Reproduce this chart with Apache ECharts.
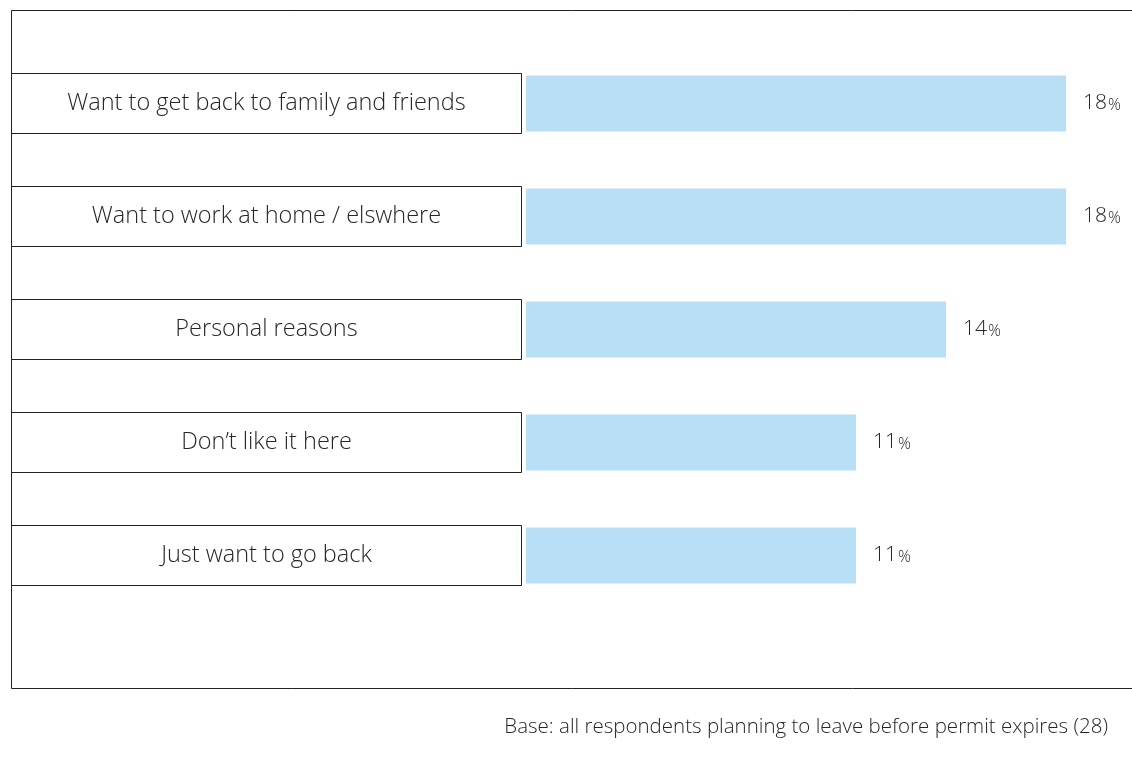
<!DOCTYPE html>
<html>
<head>
<meta charset="utf-8">
<script src="https://cdn.jsdelivr.net/npm/echarts@6/dist/echarts.min.js"></script>
<style>
  html, body { margin: 0; padding: 0; background: #fff; }
  #chart { width: 1132px; height: 782px; }
</style>
</head>
<body>
<div id="chart"></div>
<script>
// Reasons for leaving before the permit expires
const categories = [
  'Want to get back to family and friends',
  'Want to work at home / elswhere',
  'Personal reasons',
  'Don\u2019t like it here',
  'Just want to go back'
];
const shares = [18, 18, 14, 11, 11];
const footnote = 'Base: all respondents planning to leave before permit expires (28)';

const FONT = '"Open Sans", "Noto Sans", sans-serif';
const TEXT = '#262626';
const LINE = '#222222';

const chart = echarts.init(document.getElementById('chart'), null, { renderer: 'canvas' });

// one full-width box per category holds its caption
const boxFill = categories.map(() => 1);

chart.setOption({
  animation: false,
  backgroundColor: '#ffffff',
  grid: [
    { left: 11, width: 511, top: 47, height: 565 },
    { left: 526, width: 600, top: 47, height: 565 }
  ],
  xAxis: [
    { gridIndex: 0, type: 'value', min: 0, max: 1, show: false },
    { gridIndex: 1, type: 'value', min: 0, max: 20, show: false }
  ],
  yAxis: [
    { gridIndex: 0, type: 'category', data: categories, inverse: true, show: false },
    { gridIndex: 1, type: 'category', data: categories, inverse: true, show: false }
  ],
  series: [
    {
      type: 'bar',
      xAxisIndex: 0, yAxisIndex: 0,
      data: boxFill,
      barWidth: 61,
      silent: true,
      itemStyle: { color: '#ffffff', borderColor: LINE, borderWidth: 1 },
      label: {
        show: true,
        position: 'inside',
        formatter: p => p.name,
        color: TEXT,
        fontFamily: FONT,
        fontWeight: 300,
        fontSize: 23.5,
        padding: [3, 0, 0, 0]
      }
    },
    {
      type: 'bar',
      xAxisIndex: 1, yAxisIndex: 1,
      data: shares,
      barWidth: 56,
      itemStyle: { color: '#b8dff6' },
      label: {
        show: true,
        position: 'right',
        distance: 17,
        formatter: p => '{n|' + p.value + '}{p|%}',
        rich: {
          n: { color: TEXT, fontFamily: FONT, fontWeight: 300, fontSize: 21 },
          p: { color: TEXT, fontFamily: FONT, fontWeight: 300, fontSize: 16, padding: [3, 0, 0, 1] }
        }
      }
    }
  ],
  graphic: [
    {
      type: 'rect',
      silent: true,
      shape: { x: 11.5, y: 10.5, width: 1140, height: 678 },
      style: { fill: 'none', stroke: LINE, lineWidth: 1 }
    },
    {
      type: 'text',
      right: 24,
      top: 717,
      style: {
        text: footnote,
        fill: TEXT,
        font: '300 20.5px ' + FONT
      }
    }
  ]
});
</script>
</body>
</html>
